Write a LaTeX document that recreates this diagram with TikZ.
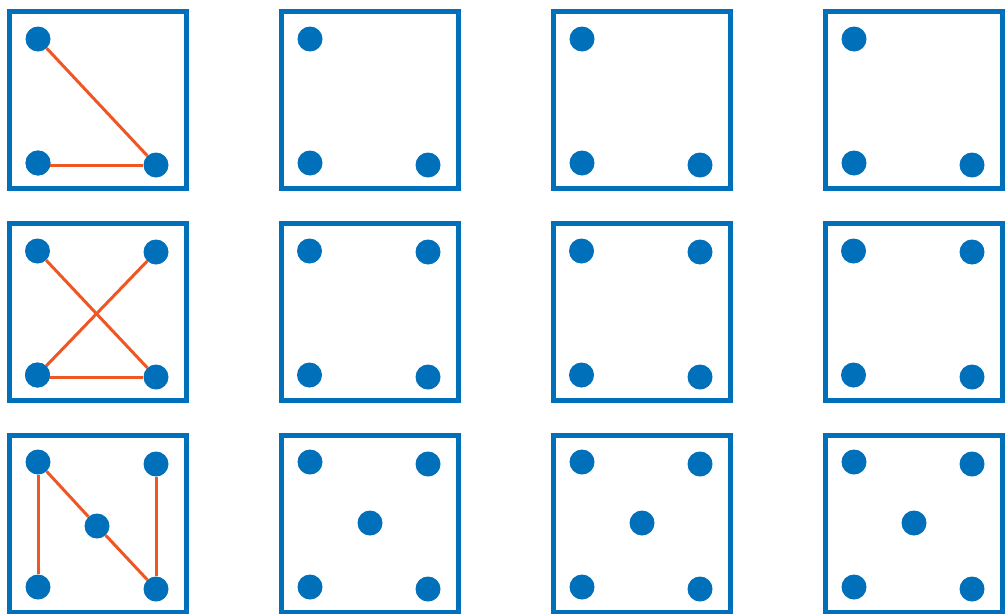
\documentclass[tikz,border=0pt]{standalone}
\usepackage{tikz}
\usetikzlibrary{calc,positioning}
\definecolor{frameblue}{RGB}{0,112,186}
\definecolor{edgeorange}{RGB}{238,87,36}

\begin{document}
\begin{tikzpicture}[x=1pt, y=-1pt,
        dot/.style={circle, fill=frameblue, inner sep=0pt, minimum size=25pt},
        frame/.style={draw=frameblue, line width=5pt},
        edge/.style={draw=edgeorange, line width=3pt}]
\useasboundingbox (0,0) rectangle (1008,613);

\foreach \c in {0,1,2,3}{
        % frames
        \foreach \r in {0,1,2}
                \draw[frame] ({9.5+272*\c},{11+212*\r}) rectangle ++(176.5,177);

        % first row
        \node[dot] (tl-\c-0) at ({38+272*\c},39) {};
        \node[dot] (bl-\c-0) at ({38+272*\c},163) {};
        \node[dot] (br-\c-0) at ({156+272*\c},165) {};

        % second row
        \node[dot] (tl-\c-1) at ({37.5+272*\c},251) {};
        \node[dot] (tr-\c-1) at ({156+272*\c},252) {};
        \node[dot] (bl-\c-1) at ({37.5+272*\c},375) {};
        \node[dot] (br-\c-1) at ({156+272*\c},377) {};

        % third row
        \node[dot] (tl-\c-2) at ({38+272*\c},462) {};
        \node[dot] (tr-\c-2) at ({156+272*\c},464) {};
        \node[dot] (bl-\c-2) at ({38+272*\c},587) {};
        \node[dot] (br-\c-2) at ({156+272*\c},589) {};
}

\node[dot] (c-0-2) at (97,526) {};
\foreach \c in {1,2,3}
        \node[dot] (c-\c-2) at ({98+272*\c},523) {};

% edges
\draw[edge] (tl-0-0) -- (br-0-0);
\draw[edge] (bl-0-0.center |- br-0-0.center) -- (br-0-0);

\draw[edge] (tl-0-1) -- (br-0-1);
\draw[edge] (bl-0-1) -- (tr-0-1);
\draw[edge] (bl-0-1.center |- br-0-1.center) -- (br-0-1);

\draw[edge] (bl-0-2) -- (tl-0-2);
\draw[edge] (tl-0-2) -- (c-0-2);
\draw[edge] (c-0-2) -- (br-0-2);
\draw[edge] (br-0-2) -- (tr-0-2);

% dots on top again where the straight edges start
\node[dot] at (bl-0-0) {};
\node[dot] at (bl-0-1) {};
\end{tikzpicture}
\end{document}
